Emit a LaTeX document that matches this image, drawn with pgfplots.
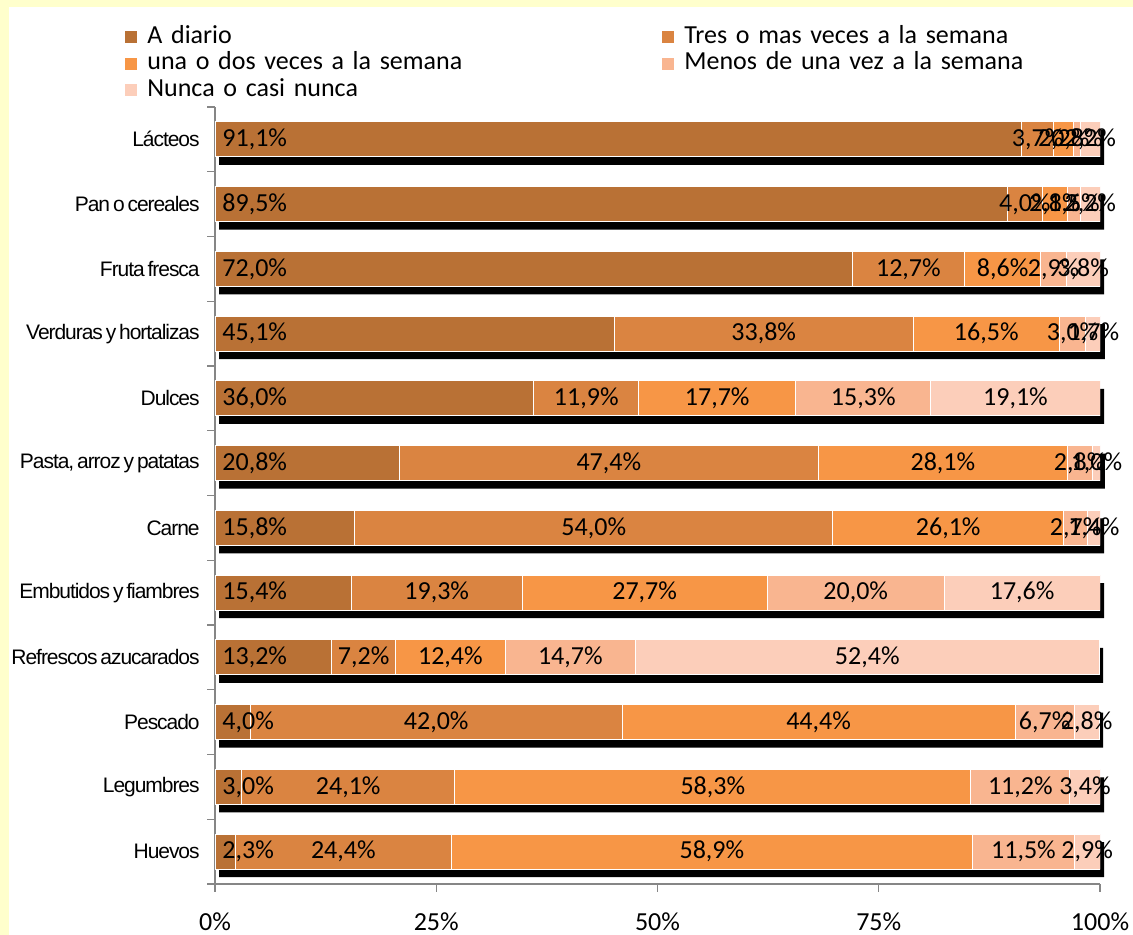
\documentclass[border=0pt]{standalone}
\usepackage{pgfplots}
\pgfplotsset{compat=1.18}
\usepackage{pgfplotstable}
\usepackage{fontspec}
\setmainfont{Carlito}
\newfontfamily\catfont[LetterSpace=-5, WordSpace=0.6]{Liberation Sans}
\definecolor{cA}{RGB}{185,113,53}
\definecolor{cB}{RGB}{218,132,65}
\definecolor{cC}{RGB}{247,150,70}
\definecolor{cD}{RGB}{249,181,144}
\definecolor{cE}{RGB}{252,206,186}
\definecolor{bgyellow}{RGB}{255,255,204}
\definecolor{axisgray}{RGB}{134,134,134}

\pgfplotstableread{
idx a b c d e
11 91.1 3.7 2.2 0.8 2.2
10 89.5 4.0 2.8 1.5 2.2
9 72.0 12.7 8.6 2.9 3.8
8 45.1 33.8 16.5 3.0 1.7
7 36.0 11.9 17.7 15.3 19.1
6 20.8 47.4 28.1 2.8 1.0
5 15.8 54.0 26.1 2.7 1.4
4 15.4 19.3 27.7 20.0 17.6
3 13.2 7.2 12.4 14.7 52.4
2 4.0 42.0 44.4 6.7 2.8
1 3.0 24.1 58.3 11.2 3.4
0 2.3 24.4 58.9 11.5 2.9
}\datatable

\pgfplotsset{common/.style={scale only axis, width=442.5pt, height=388.5pt,
  at={(107.5pt,25.5pt)}, anchor=south west,
  xmin=0, xmax=100, ymin=-0.5, ymax=11.5, enlargelimits=false}}
\pgfplotsset{lbl/.style={only marks, mark=*, mark size=0pt, mark options={opacity=0, draw opacity=0, fill opacity=0},
  nodes near coords={\pgfmathprintnumber{\pgfplotspointmeta}\%}, point meta=explicit,
  every node near coord/.append style={anchor=center, inner sep=0pt, text=black, opacity=1, text opacity=1,
    font=\fontsize{13pt}{15pt}\selectfont}}}

\begin{document}
\begin{tikzpicture}
\useasboundingbox (0,0) rectangle (566.5pt,467.5pt);
\fill[bgyellow] (0,0) rectangle (566.5pt,467.5pt);
\fill[white] (4.5pt,0) rectangle (566.5pt,464pt);

% shadow
\begin{axis}[common, hide axis, clip=false]
\addplot[xbar, bar width=17.5pt, bar shift=0pt, fill=black, draw=none, xshift=2pt, yshift=-4pt]
  table[x expr=\thisrow{a}+\thisrow{b}+\thisrow{c}+\thisrow{d}+\thisrow{e}, y=idx]{\datatable};
\end{axis}

% bars
\begin{axis}[common, xbar stacked, bar width=17.5pt,
  axis x line*=bottom, axis y line*=left,
  axis line style={axisgray, line width=0.6pt},
  every tick/.style={axisgray, line width=0.6pt},
  tick align=outside, major tick length=4pt,
  xtick={0,25,50,75,100},
  xticklabel={\pgfmathprintnumber{\tick}\%},
  xticklabel style={font=\fontsize{13pt}{15pt}\selectfont, anchor=base, yshift=-19pt},
  ytick={-0.5,0.5,...,11.5}, yticklabels={},
  extra y ticks={0,1,2,3,4,5,6,7,8,9,10,11},
  extra y tick labels={Huevos,Legumbres,Pescado,Refrescos azucarados,Embutidos y fiambres,Carne,{Pasta, arroz y patatas},Dulces,Verduras y hortalizas,Fruta fresca,Pan o cereales,Lácteos},
  extra y tick style={major tick length=0pt, yticklabel style={font=\catfont\fontsize{10.5pt}{12pt}\selectfont, anchor=east, inner sep=0pt, xshift=-7.5pt}},
  /pgf/number format/assume math mode=true,
  legend columns=2,
  legend image code/.code={\draw[#1, draw=none] (0pt,-3pt) rectangle (6pt,3pt);},
  legend style={at={(axis description cs:0,1)}, anchor=north west, xshift=-45pt, yshift=41pt,
    draw=none, fill=none, inner sep=0pt, row sep=1.25pt,
    font=\fontsize{13pt}{15pt}\selectfont,
    nodes={inner sep=0pt, text height=9pt, text depth=3pt, text width=240pt, align=left},
    /tikz/every odd column/.append style={column sep=5pt},
    /tikz/every even column/.append style={column sep=17.5pt}},
  legend cell align=left,
]
\addplot[fill=cA, draw=white, line width=0.5pt] table[x=a, y=idx]{\datatable};
\addplot[fill=cB, draw=white, line width=0.5pt] table[x=b, y=idx]{\datatable};
\addplot[fill=cC, draw=white, line width=0.5pt] table[x=c, y=idx]{\datatable};
\addplot[fill=cD, draw=white, line width=0.5pt] table[x=d, y=idx]{\datatable};
\addplot[fill=cE, draw=white, line width=0.5pt] table[x=e, y=idx]{\datatable};
\legend{A diario, Tres o mas veces a la semana, una o dos veces a la semana, Menos de una vez a la semana, Nunca o casi nunca}
\end{axis}

% labels
\begin{axis}[common, hide axis, clip=false,
  /pgf/number format/.cd, use comma, fixed, fixed zerofill, precision=1, assume math mode=true]
\addplot[lbl, every node near coord/.append style={anchor=west, xshift=3.5pt}]
  table[x expr=0, y=idx, meta=a]{\datatable};
\addplot[lbl] table[x expr=\thisrow{a}+\thisrow{b}/2, y=idx, meta=b]{\datatable};
\addplot[lbl] table[x expr=\thisrow{a}+\thisrow{b}+\thisrow{c}/2, y=idx, meta=c]{\datatable};
\addplot[lbl] table[x expr=\thisrow{a}+\thisrow{b}+\thisrow{c}+\thisrow{d}/2, y=idx, meta=d]{\datatable};
\addplot[lbl] table[x expr=\thisrow{a}+\thisrow{b}+\thisrow{c}+\thisrow{d}+\thisrow{e}/2, y=idx, meta=e]{\datatable};
\end{axis}
\end{tikzpicture}
\end{document}
